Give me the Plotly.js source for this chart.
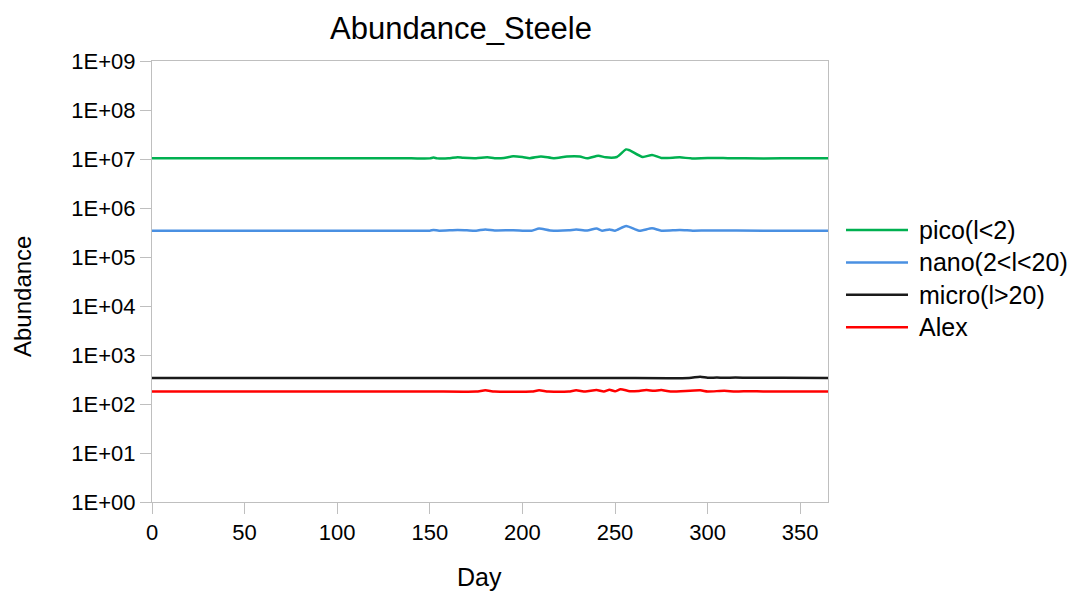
<!DOCTYPE html>
<html>
<head>
<meta charset="utf-8">
<script src="https://cdn.plot.ly/plotly-3.0.1.min.js"></script>
<style>html,body{margin:0;padding:0;background:#fff;}#chart{width:1083px;height:592px;}</style>
</head>
<body>
<div id="chart"></div>
<script>
// ---- Data ----
var seriesNames = ["pico(l<2)", "nano(2<l<20)", "micro(l>20)", "Alex"];

var picoDays   = [0, 50, 100, 140, 150, 152, 154, 160, 165, 168, 175, 181, 185, 190, 195, 200, 204, 210, 217, 224, 231, 235, 241, 245, 251, 256, 258, 265, 270, 275, 285, 291, 300, 311, 320, 340, 365];
var picoValues = [1.03e7, 1.03e7, 1.03e7, 1.03e7, 1.03e7, 1.07e7, 1.03e7, 1.03e7, 1.09e7, 1.06e7, 1.04e7, 1.08e7, 1.04e7, 1.05e7, 1.14e7, 1.10e7, 1.04e7, 1.13e7, 1.04e7, 1.12e7, 1.12e7, 1.03e7, 1.17e7, 1.08e7, 1.10e7, 1.57e7, 1.50e7, 1.10e7, 1.21e7, 1.05e7, 1.08e7, 1.03e7, 1.05e7, 1.04e7, 1.03e7, 1.03e7, 1.03e7];

var nanoDays   = [0, 50, 100, 140, 150, 152, 155, 165, 170, 175, 180, 185, 195, 205, 209, 215, 225, 229, 235, 240, 243, 247, 250, 256, 263, 270, 275, 285, 292, 300, 330, 365];
var nanoValues = [3.45e5, 3.45e5, 3.45e5, 3.45e5, 3.45e5, 3.55e5, 3.45e5, 3.55e5, 3.50e5, 3.45e5, 3.65e5, 3.48e5, 3.52e5, 3.45e5, 3.80e5, 3.48e5, 3.50e5, 3.65e5, 3.48e5, 3.80e5, 3.45e5, 3.65e5, 3.45e5, 4.30e5, 3.45e5, 3.85e5, 3.45e5, 3.55e5, 3.45e5, 3.47e5, 3.45e5, 3.45e5];

var microDays   = [0, 50, 100, 150, 200, 250, 290, 296, 300, 305, 309, 315, 323, 330, 340, 365];
var microValues = [3.40e2, 3.40e2, 3.40e2, 3.40e2, 3.40e2, 3.40e2, 3.40e2, 3.60e2, 3.42e2, 3.46e2, 3.42e2, 3.46e2, 3.43e2, 3.45e2, 3.42e2, 3.40e2];

var alexDays   = [0, 50, 100, 150, 175, 180, 185, 205, 209, 214, 225, 229, 234, 240, 244, 247, 250, 253, 258, 263, 267, 271, 275, 280, 296, 300, 309, 315, 323, 330, 365];
var alexValues = [1.80e2, 1.80e2, 1.80e2, 1.80e2, 1.80e2, 1.90e2, 1.80e2, 1.80e2, 1.90e2, 1.80e2, 1.80e2, 1.90e2, 1.80e2, 1.92e2, 1.80e2, 1.95e2, 1.82e2, 2.00e2, 1.82e2, 1.85e2, 1.92e2, 1.86e2, 1.92e2, 1.80e2, 1.90e2, 1.80e2, 1.86e2, 1.80e2, 1.83e2, 1.80e2, 1.80e2];

var seriesColors = ["#00b050", "#4a90e2", "#1a1a1a", "#ff0000"];

var yTickVals  = [1, 10, 100, 1000, 10000, 100000, 1000000, 10000000, 100000000, 1000000000];
var yTickText  = ["1E+00", "1E+01", "1E+02", "1E+03", "1E+04", "1E+05", "1E+06", "1E+07", "1E+08", "1E+09"];
var xTickVals  = [0, 50, 100, 150, 200, 250, 300, 350];

var chartTitle = "Abundance_Steele";
var xTitle = "Day";
var yTitle = "Abundance";

// ---- Layout geometry (pixels) ----
var W = 1083, H = 592;
var M = { l: 152, r: 255, t: 61, b: 90 };
var plotW = W - M.l - M.r, plotH = H - M.t - M.b;
function px2paperX(px) { return (px - M.l) / plotW; }
function px2paperY(py) { return (H - M.b - py) / plotH; }

var fontFam = "Liberation Sans, Arial, sans-serif";
var axisGray = "#bfbfbf";

// ---- Build traces ----
var allDays = [picoDays, nanoDays, microDays, alexDays];
var allValues = [picoValues, nanoValues, microValues, alexValues];
var traces = seriesNames.map(function (name, i) {
  return {
    type: "scatter",
    mode: "lines",
    name: name,
    x: allDays[i],
    y: allValues[i],
    line: { color: seriesColors[i], width: 2.5, shape: "spline", smoothing: 0.6 },
    showlegend: false
  };
});

// ---- Custom legend (Excel-like long line samples) ----
var legendTop = 230, legendStep = 32.4, legendLineX0 = 846, legendLineX1 = 908, legendTextX = 917;
var shapes = [];
var annotations = [];
seriesNames.forEach(function (name, i) {
  var yy = px2paperY(legendTop + i * legendStep);
  shapes.push({
    type: "line", xref: "paper", yref: "paper",
    x0: px2paperX(legendLineX0), x1: px2paperX(legendLineX1), y0: yy, y1: yy,
    line: { color: seriesColors[i], width: 2.5 }
  });
  annotations.push({
    xref: "paper", yref: "paper", x: px2paperX(legendTextX), y: yy,
    xanchor: "left", yanchor: "middle", showarrow: false,
    text: name, font: { family: fontFam, size: 25, color: "#000000" }
  });
});
// axis titles
annotations.push({
  xref: "paper", yref: "paper", x: px2paperX(479), y: px2paperY(577),
  xanchor: "center", yanchor: "middle", showarrow: false,
  text: xTitle, font: { family: fontFam, size: 25, color: "#000000" }
});
annotations.push({
  xref: "paper", yref: "paper", x: px2paperX(22), y: px2paperY(297),
  xanchor: "center", yanchor: "middle", showarrow: false, textangle: -90,
  text: yTitle, font: { family: fontFam, size: 24, color: "#000000" }
});

var layout = {
  width: W,
  height: H,
  paper_bgcolor: "#ffffff",
  plot_bgcolor: "#ffffff",
  margin: { l: M.l, r: M.r, t: M.t, b: M.b, pad: 0 },
  font: { family: fontFam, color: "#000000", size: 20 },
  title: {
    text: chartTitle,
    font: { family: fontFam, size: 31, color: "#000000" },
    x: 461 / W, xref: "container", xanchor: "center",
    y: 1 - 28 / H, yref: "container", yanchor: "middle"
  },
  xaxis: {
    range: [0, 365],
    tickvals: xTickVals,
    ticks: "outside",
    ticklen: 11,
    tickcolor: axisGray,
    tickwidth: 1,
    showline: true,
    linecolor: axisGray,
    linewidth: 1,
    mirror: true,
    showgrid: false,
    zeroline: false,
    tickfont: { family: fontFam, size: 22, color: "#000000" }
  },
  yaxis: {
    type: "log",
    range: [0, 9],
    tickvals: yTickVals,
    ticktext: yTickText,
    ticks: "outside",
    ticklen: 11,
    tickcolor: axisGray,
    tickwidth: 1,
    showline: true,
    linecolor: axisGray,
    linewidth: 1,
    mirror: true,
    showgrid: false,
    zeroline: false,
    tickfont: { family: fontFam, size: 22, color: "#000000" }
  },
  showlegend: false,
  shapes: shapes,
  annotations: annotations
};

Plotly.newPlot("chart", traces, layout, { displayModeBar: false, staticPlot: true });
</script>
</body>
</html>
